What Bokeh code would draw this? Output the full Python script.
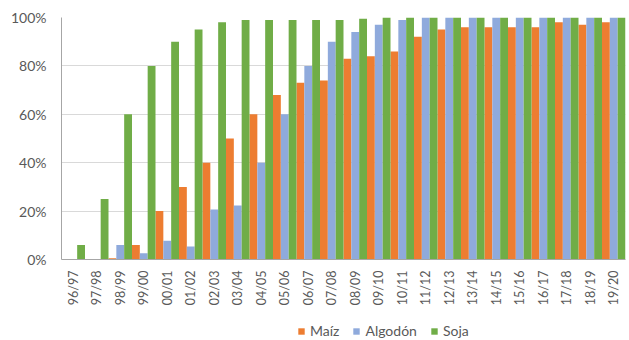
import math
from bokeh.plotting import figure
from bokeh.layouts import column
from bokeh.models import ColumnDataSource, FactorRange, Range1d, FixedTicker, PrintfTickFormatter, Legend, LegendItem
from bokeh.transform import dodge
from bokeh.embed import file_html
from bokeh.resources import INLINE

campaigns = ["96/97", "97/98", "98/99", "99/00", "00/01", "01/02", "02/03", "03/04",
             "04/05", "05/06", "06/07", "07/08", "08/09", "09/10", "10/11", "11/12",
             "12/13", "13/14", "14/15", "15/16", "16/17", "17/18", "18/19", "19/20"]
maiz = [0, 0, 0.5, 6, 20, 30, 40, 50, 60, 68, 73, 74, 83, 84, 86, 92, 95, 96, 96, 96, 96, 98, 97, 98]
algodon = [0, 0, 6, 2.6, 7.7, 5.4, 20.7, 22.3, 40, 60, 80, 90, 94, 97, 99, 100, 100, 100, 100, 100, 100, 100, 100, 100]
soja = [6, 25, 60, 80, 90, 95, 98, 99, 99, 99, 99, 99, 99.5, 100, 100, 100, 100, 100, 100, 100, 100, 100, 100, 100]
series_cols = ["maiz", "algodon", "soja"]
series_names = ["Maíz", "Algodón", "Soja"]
series_colors = ["#ED7D31", "#8FAADC", "#70AD47"]
y_ticks = [0, 20, 40, 60, 80, 100]

src = ColumnDataSource(dict(cat=campaigns, maiz=maiz, algodon=algodon, soja=soja))

FONT = "Lato"
TXT = "#595959"
w = 1 / 3

# main chart
p = figure(width=629, height=312, x_range=FactorRange(*campaigns), y_range=Range1d(0, 100),
           output_backend="svg", toolbar_location=None,
           min_border_left=61, min_border_right=4, min_border_top=17, min_border_bottom=53)

for i, (col, color) in enumerate(zip(series_cols, series_colors)):
    p.vbar(x=dodge("cat", (i - 1) * w, range=p.x_range), top=col, width=w, source=src,
           fill_color=color, line_color=None)

p.outline_line_color = None
p.background_fill_color = "white"
p.border_fill_color = "white"
p.xgrid.grid_line_color = None
p.ygrid.grid_line_color = "#d9d9d9"
p.yaxis.ticker = FixedTicker(ticks=y_ticks)
p.yaxis.formatter = PrintfTickFormatter(format="%d%%")

for ax in [p.xaxis[0], p.yaxis[0]]:
    ax.major_tick_line_color = None
    ax.minor_tick_line_color = None
    ax.major_tick_out = 0
    ax.major_tick_in = 0
    ax.axis_line_color = "#a6a6a6"
    ax.major_label_text_font = FONT
    ax.major_label_text_color = TXT

p.yaxis.major_label_text_font_size = "14px"
p.yaxis.major_label_standoff = 15
p.xaxis.major_label_text_font_size = "12.5px"
p.xaxis.major_label_orientation = math.pi / 2
p.xaxis.major_label_standoff = 11

# legend strip (its own bars sit outside its visible range; only the legend shows)
lg = figure(width=629, height=28, x_range=FactorRange(*campaigns), y_range=Range1d(1000, 2000),
            output_backend="svg", toolbar_location=None,
            x_axis_location=None, y_axis_location=None,
            min_border_left=0, min_border_right=0, min_border_top=0, min_border_bottom=0)
lg.outline_line_color = None
lg.xgrid.grid_line_color = None
lg.ygrid.grid_line_color = None
items = []
for i, (col, name, color) in enumerate(zip(series_cols, series_names, series_colors)):
    r = lg.vbar(x=dodge("cat", (i - 1) * w, range=lg.x_range), top=col, width=w, source=src,
                fill_color=color, line_color=None)
    items.append(LegendItem(label=name, renderers=[r]))

legend = Legend(items=items, orientation="horizontal", location=(236, 1),
                label_text_font=FONT, label_text_font_size="14px", label_text_color=TXT,
                glyph_width=8, glyph_height=8, label_height=16, label_standoff=5, spacing=13,
                border_line_color=None, background_fill_alpha=0, padding=0, margin=0)
lg.add_layout(legend, "center")

layout = column(p, lg, spacing=0)
open("out.html", "w").write(file_html(layout, INLINE))
